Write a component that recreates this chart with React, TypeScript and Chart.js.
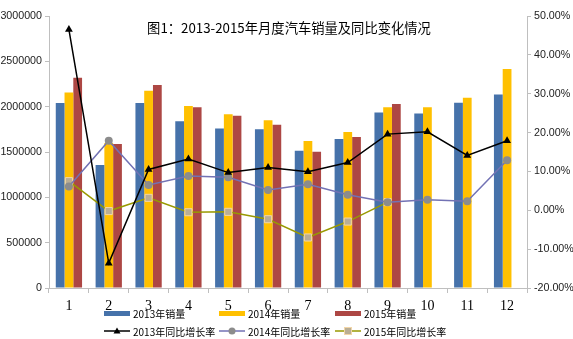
import React, { useEffect, useRef } from "react";
import { Chart, registerables } from "chart.js";

Chart.register(...registerables);

const months = ["1", "2", "3", "4", "5", "6", "7", "8", "9", "10", "11", "12"];
const sales2013 = [2040000, 1357000, 2040000, 1840000, 1760000, 1750000, 1514000, 1643000, 1937000, 1926000, 2044000, 2135000];
const sales2014 = [2157000, 1600000, 2176000, 2007000, 1915000, 1850000, 1620000, 1720000, 1993000, 1993000, 2099000, 2415000];
const sales2015 = [2319000, 1588000, 2239000, 1993000, 1900000, 1800000, 1503000, 1665000, 2030000, null, null, null];
const growth2013 = [46.5, -13.6, 10.5, 13.2, 9.7, 11.0, 9.9, 12.3, 19.6, 20.2, 14.1, 17.9];
const growth2014 = [6.1, 17.9, 6.5, 8.8, 8.5, 5.2, 6.7, 4.0, 2.1, 2.7, 2.3, 12.9];
const growth2015 = [7.5, -0.2, 3.2, -0.5, -0.4, -2.3, -7.0, -2.9, 2.1, null, null, null];

const titleText = "图1：2013-2015年月度汽车销量及同比变化情况";
const barLabels = ["2013年销量", "2014年销量", "2015年销量"];
const lineLabels = ["2013年同比增长率", "2014年同比增长率", "2015年同比增长率"];

const BLUE = "#4672AA";
const YELLOW = "#FFC000";
const RED = "#AD4744";
const AXIS = "#BFBFBF";

export default function App() {
  const ref = useRef<HTMLCanvasElement | null>(null);
  useEffect(() => {
    if (!ref.current) return;
    const overlay = {
      id: "overlay",
      afterDraw(chart: any) {
        const ctx = chart.ctx;
        ctx.save();
        ctx.fillStyle = "#000";
        ctx.font = '13.3px "Noto Sans CJK SC"';
        ctx.textAlign = "center";
        ctx.textBaseline = "middle";
        ctx.fillText(titleText, 289, 28);
        // legend
        const xs = [104, 219, 335];
        ctx.font = '10px "Noto Sans CJK SC"';
        ctx.textAlign = "left";
        const barColors = [BLUE, YELLOW, RED];
        for (let i = 0; i < 3; i++) {
          ctx.fillStyle = barColors[i];
          ctx.fillRect(xs[i], 311, 26, 5);
          ctx.fillStyle = "#000";
          ctx.fillText(barLabels[i], xs[i] + 29, 314);
        }
        const lineColors = ["#000000", "#7272B4", "#999900"];
        for (let i = 0; i < 3; i++) {
          ctx.strokeStyle = lineColors[i];
          ctx.lineWidth = 1.5;
          ctx.beginPath();
          ctx.moveTo(xs[i], 331);
          ctx.lineTo(xs[i] + 26, 331);
          ctx.stroke();
          const cx = xs[i] + 13;
          if (i === 0) {
            ctx.fillStyle = "#000";
            ctx.beginPath();
            ctx.moveTo(cx, 327.5);
            ctx.lineTo(cx + 3.5, 333.5);
            ctx.lineTo(cx - 3.5, 333.5);
            ctx.closePath();
            ctx.fill();
          } else if (i === 1) {
            ctx.fillStyle = "#8C8C8C";
            ctx.beginPath();
            ctx.arc(cx, 331, 3.5, 0, Math.PI * 2);
            ctx.fill();
          } else {
            ctx.fillStyle = "#BAAE95";
            ctx.strokeStyle = "#F2D6A8";
            ctx.lineWidth = 1;
            ctx.fillRect(cx - 3.5, 327.5, 7, 7);
            ctx.strokeRect(cx - 3.5, 327.5, 7, 7);
          }
          ctx.fillStyle = "#000";
          ctx.fillText(lineLabels[i], xs[i] + 29, 332);
        }
        ctx.restore();
      },
    };
    const chart = new Chart(ref.current, {
      type: "bar",
      data: {
        labels: months,
        datasets: [
          {
            type: "line",
            label: lineLabels[0],
            data: growth2013,
            yAxisID: "y1",
            borderColor: "#000000",
            backgroundColor: "#000000",
            borderWidth: 1.5,
            pointStyle: "triangle",
            pointRadius: 4.5,
            pointBorderWidth: 0,
            order: 0,
          } as any,
          {
            type: "line",
            label: lineLabels[1],
            data: growth2014,
            yAxisID: "y1",
            borderColor: "#7272B4",
            backgroundColor: "#8C8C8C",
            pointBorderColor: "#8C8C8C",
            borderWidth: 1.5,
            pointStyle: "circle",
            pointRadius: 4,
            pointBorderWidth: 0,
            order: 1,
          },
          {
            type: "line",
            label: lineLabels[2],
            data: growth2015,
            yAxisID: "y1",
            borderColor: "#999900",
            backgroundColor: "#BAAE95",
            pointBorderColor: "#F2D6A8",
            borderWidth: 1.5,
            pointStyle: "rect",
            pointRadius: 5,
            pointBorderWidth: 1,
            order: 2,
          },
          { label: barLabels[0], data: sales2013, backgroundColor: BLUE, yAxisID: "y", order: 5, categoryPercentage: 0.66, barPercentage: 1 },
          { label: barLabels[1], data: sales2014, backgroundColor: YELLOW, yAxisID: "y", order: 5, categoryPercentage: 0.66, barPercentage: 1 },
          { label: barLabels[2], data: sales2015, backgroundColor: RED, yAxisID: "y", order: 5, categoryPercentage: 0.66, barPercentage: 1 },
        ] as any,
      },
      options: {
        responsive: false,
        devicePixelRatio: 1,
        animation: false,
        layout: { padding: { top: 16, left: 0, right: 0, bottom: 0 } },
        plugins: { legend: { display: false }, tooltip: { enabled: false }, title: { display: false } },
        scales: {
          x: {
            offset: true,
            grid: { offset: true, drawOnChartArea: false, drawTicks: true, tickLength: 5, color: AXIS },
            border: { color: AXIS },
            ticks: { color: "#000", font: { family: '"Liberation Serif"', size: 14 }, padding: 5 },
            afterFit: (s: any) => { s.height = 51; },
          },
          y: {
            position: "left",
            min: 0,
            max: 3000000,
            ticks: { stepSize: 500000, color: "#222", font: { family: '"Liberation Sans"', size: 10.7 }, padding: 3, callback: (v: any) => String(v) },
            grid: { drawOnChartArea: false, drawTicks: true, tickLength: 4, color: AXIS },
            border: { color: AXIS },
            afterFit: (s: any) => { s.width = 49; },
          },
          y1: {
            position: "right",
            min: -20,
            max: 50,
            ticks: { stepSize: 10, color: "#222", font: { family: '"Liberation Sans"', size: 10.7 }, padding: 3, callback: (v: any) => Number(v).toFixed(2) + "%" },
            grid: { drawOnChartArea: false, drawTicks: true, tickLength: 4, color: AXIS },
            border: { color: AXIS },
            afterFit: (s: any) => { s.width = 46; },
          },
        },
      } as any,
      plugins: [overlay],
    });
    return () => chart.destroy();
  }, []);
  return (
    <div style={{ position: "fixed", left: 0, top: 0, width: 573, height: 339, background: "#fff" }}>
      <canvas ref={ref} width={573} height={339} style={{ width: 573, height: 339, display: "block" }} />
    </div>
  );
}
